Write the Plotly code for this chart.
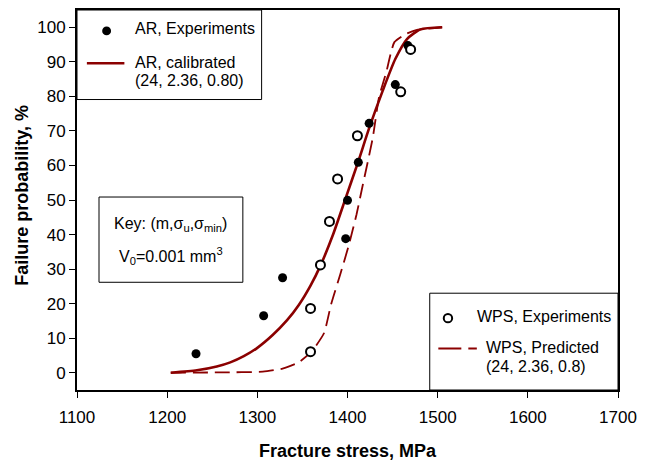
import plotly.graph_objects as go

# ---------------- data ----------------
ar_exp_x = [1232, 1307, 1328, 1398, 1400, 1412, 1424, 1453, 1467]
ar_exp_y = [5.5, 16.5, 27.5, 38.8, 49.9, 60.9, 72.2, 83.4, 94.7]

wps_exp_x = [1359, 1359, 1370, 1380, 1389, 1411, 1459, 1470]
wps_exp_y = [6.1, 18.6, 31.2, 43.8, 56.1, 68.6, 81.3, 93.6]

ar_cal_x = [1204, 1233, 1255, 1270, 1285, 1300, 1317, 1333, 1346, 1359, 1370, 1384,
            1397, 1412, 1424, 1439, 1453, 1466, 1481, 1505]
ar_cal_y = [0, 0.7, 1.8, 3.0, 4.8, 7.2, 10.9, 15.2, 19.6, 25.2, 31.0, 40.0,
            49.8, 61.2, 70.8, 81.6, 90.8, 96.6, 99.4, 100]

wps_pred_x = [1204, 1260, 1306, 1328, 1346, 1361, 1374, 1382, 1392, 1401, 1410,
              1417, 1428, 1435, 1443, 1452, 1465, 1476, 1505]
wps_pred_y = [0, 0.1, 0.3, 1.2, 3.0, 6.4, 11.5, 20.0, 28.5, 36.5, 45.8,
              54.4, 68.0, 79.8, 87.0, 95.7, 98.1, 99.2, 100]

x_ticks = [1100, 1200, 1300, 1400, 1500, 1600, 1700]
y_ticks = [0, 10, 20, 30, 40, 50, 60, 70, 80, 90, 100]

# ---------------- style ----------------
RED = "#8b0000"
FONT = "Liberation Sans, Arial, sans-serif"
W, H = 645, 463
L, R, T, B = 77, 625, 8, 390  # plot area pixel box


def px(x):
    return (x - L) / (R - L)


def py(y):
    return (B - y) / (B - T)


fig = go.Figure()
fig.add_trace(go.Scatter(x=ar_cal_x, y=ar_cal_y, mode="lines",
                         line=dict(color=RED, width=2.6, shape="spline", smoothing=0.6),
                         showlegend=False, hoverinfo="skip"))
fig.add_trace(go.Scatter(x=wps_pred_x, y=wps_pred_y, mode="lines",
                         line=dict(color=RED, width=1.8, dash="15px,7px", shape="spline", smoothing=0.5),
                         showlegend=False, hoverinfo="skip"))
fig.add_trace(go.Scatter(x=ar_exp_x, y=ar_exp_y, mode="markers",
                         marker=dict(symbol="circle", size=9, color="black",
                                     line=dict(color="black", width=0)),
                         showlegend=False))
fig.add_trace(go.Scatter(x=wps_exp_x, y=wps_exp_y, mode="markers",
                         marker=dict(symbol="circle", size=9, color="white",
                                     line=dict(color="black", width=2)),
                         showlegend=False))

shapes = []
# legend / key boxes
for (x0, y0, x1, y1) in [(L, T, 264, 98), (99.3, 196, 245, 281.7), (434.3, 292.7, R, B)]:
    shapes.append(dict(type="rect", xref="paper", yref="paper",
                       x0=px(x0), x1=px(x1), y0=py(y1), y1=py(y0),
                       line=dict(color="black", width=1), fillcolor="white", layer="above"))
# legend samples
shapes.append(dict(type="circle", xref="paper", yref="paper",
                   x0=px(102.5), x1=px(111.5), y0=py(33.5), y1=py(24.5),
                   fillcolor="black", line=dict(color="black", width=0), layer="above"))
shapes.append(dict(type="line", xref="paper", yref="paper",
                   x0=px(87), x1=px(125), y0=py(61.5), y1=py(61.5),
                   line=dict(color=RED, width=2.6), layer="above"))
shapes.append(dict(type="circle", xref="paper", yref="paper",
                   x0=px(448.5), x1=px(457), y0=py(322), y1=py(313.5),
                   fillcolor="white", line=dict(color="black", width=2), layer="above"))
shapes.append(dict(type="line", xref="paper", yref="paper",
                   x0=px(443), x1=px(482), y0=py(348.3), y1=py(348.3),
                   line=dict(color=RED, width=1.8, dash="23px,7px"), layer="above"))

ann = []


def text(x, y, s, size=16, anchor="left", **kw):
    ann.append(dict(x=px(x), y=py(y), xref="paper", yref="paper", text=s,
                    showarrow=False, xanchor=anchor, yanchor="middle",
                    font=dict(family=FONT, size=size, color="black"), **kw))


text(134, 27, "AR, Experiments")
text(134, 61, "AR, calibrated")
text(134, 79, "(24, 2.36, 0.80)")
text(172, 224, "Key: (m,σ<sub>u</sub>,σ<sub>min</sub>)", anchor="center")
text(172, 255, "V<sub>0</sub>=0.001 mm<sup>3</sup>", anchor="center")
text(480, 316, "WPS, Experiments")
text(489, 347, "WPS, Predicted")
text(489, 366, "(24, 2.36, 0.8)")
text(352, 451, "<b>Fracture stress, MPa</b>", size=18, anchor="center")
text(21, 194, "<b>Failure probability, %</b>", size=18, anchor="center", textangle=-90)

axis_common = dict(showgrid=False, zeroline=False, showline=True, linecolor="black",
                   linewidth=2, mirror=True, ticks="outside", ticklen=6, tickwidth=1,
                   tickcolor="black", tickfont=dict(family=FONT, size=17, color="black"))
fig.update_layout(
    width=W, height=H,
    margin=dict(l=L, r=W - R, t=T, b=H - B, pad=0),
    paper_bgcolor="white", plot_bgcolor="white",
    xaxis=dict(range=[1100, 1700], tickvals=x_ticks, ticklabelstandoff=5, **axis_common),
    yaxis=dict(range=[-5, 105], tickvals=y_ticks, **axis_common),
    shapes=shapes, annotations=ann, showlegend=False,
)
fig.write_html("out.html")
